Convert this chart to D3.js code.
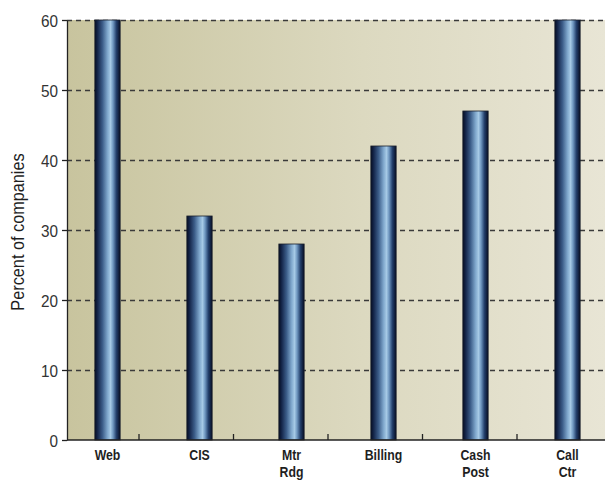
<!DOCTYPE html>
<html>
<head>
<meta charset="utf-8">
<script src="https://cdn.jsdelivr.net/npm/d3@7"></script>
<style>
  html, body { margin: 0; padding: 0; background: #ffffff; }
  svg { display: block; }
</style>
</head>
<body>
<svg id="chart" width="605" height="483"></svg>
<script>
// Share of companies by customer-service function
const categories = ["Web", "CIS", "Mtr\nRdg", "Billing", "Cash\nPost", "Call\nCtr"];
const values = [60, 32, 28, 42, 47, 60];
const yTicks = [0, 10, 20, 30, 40, 50, 60];
const yTitle = "Percent of companies";

const W = 605, H = 483;
const plot = { left: 67, right: 605, top: 20, bottom: 440 };
const FONT = "'Liberation Sans', Arial, sans-serif";

const svg = d3.select("#chart");
const defs = svg.append("defs");

// Plot-area background: warm olive on the left fading to pale cream on the right
const bg = defs.append("linearGradient").attr("id", "bgGrad")
  .attr("x1", "0%").attr("x2", "100%").attr("y1", "0%").attr("y2", "0%");
bg.append("stop").attr("offset", "0%").attr("stop-color", "#c8c49e");
bg.append("stop").attr("offset", "55%").attr("stop-color", "#dcd9c0");
bg.append("stop").attr("offset", "100%").attr("stop-color", "#e8e5d5");

// Cylindrical bar shading
const bar = defs.append("linearGradient").attr("id", "barGrad")
  .attr("x1", "0%").attr("x2", "100%").attr("y1", "0%").attr("y2", "0%");
[
  [0, "#050d24"], [0.12, "#16284d"], [0.3, "#3b5c88"], [0.5, "#7fa7cc"],
  [0.62, "#a6cae6"], [0.72, "#6f97c0"], [0.85, "#24406c"], [1, "#050d24"]
].forEach(([o, c]) => bar.append("stop").attr("offset", o).attr("stop-color", c));

const y = d3.scaleLinear().domain([0, 60]).range([plot.bottom, plot.top]);
const x = d3.scaleBand().domain(categories).range([61.5, 613.5]).paddingInner(0.725).paddingOuter(0.3625);
// Tick marks separating the categories along the bottom axis
const sep = d3.scaleLinear().domain([0, 6]).range([44.5, 611.5]);

svg.append("rect")
  .attr("x", plot.left).attr("y", plot.top)
  .attr("width", plot.right - plot.left).attr("height", plot.bottom - plot.top)
  .attr("fill", "url(#bgGrad)");

// Dashed gridlines
svg.append("g").selectAll("line")
  .data(yTicks.filter(d => d > 0))
  .join("line")
  .attr("x1", plot.left).attr("x2", plot.right)
  .attr("y1", d => y(d) + 0.5).attr("y2", d => y(d) + 0.5)
  .attr("stroke", "#3a3a3a").attr("stroke-width", 1.3)
  .attr("stroke-dasharray", "5,4");

// Bars
const bw = x.bandwidth();
svg.append("g").selectAll("rect")
  .data(categories)
  .join("rect")
  .attr("x", d => x(d))
  .attr("y", (d, i) => y(values[i]))
  .attr("width", bw)
  .attr("height", (d, i) => y(0) - y(values[i]))
  .attr("fill", "url(#barGrad)")
  .attr("stroke", "#1a1f2a").attr("stroke-width", 0.8);

// Y axis
const yAxis = svg.append("g")
  .attr("transform", `translate(${plot.left},0)`)
  .call(d3.axisLeft(y).tickValues(yTicks).tickSize(5).tickPadding(3).tickSizeOuter(0));
yAxis.select(".domain").attr("stroke", "#222").attr("stroke-width", 1.3);
yAxis.selectAll(".tick line").attr("stroke", "#222").attr("stroke-width", 1.3);
yAxis.selectAll(".tick text").remove();
// Slightly condensed tick numbers, right-aligned against the tick marks
yAxis.selectAll(".tick").append("text")
  .attr("transform", "translate(-9,0) scale(0.9,1)")
  .attr("text-anchor", "end")
  .attr("dy", "0.36em")
  .attr("font-family", FONT)
  .attr("font-size", 17).attr("fill", "#333")
  .text(d => d);

// X axis line and separators
svg.append("line")
  .attr("x1", plot.left).attr("x2", plot.right)
  .attr("y1", plot.bottom).attr("y2", plot.bottom)
  .attr("stroke", "#222").attr("stroke-width", 1.3);
svg.append("g").selectAll("line")
  .data(d3.range(1, 6))
  .join("line")
  .attr("x1", d => sep(d)).attr("x2", d => sep(d))
  .attr("y1", plot.bottom - 6).attr("y2", plot.bottom)
  .attr("stroke", "#222").attr("stroke-width", 1.3);

// Category labels (condensed bold, up to two lines)
const lab = svg.append("g").selectAll("text")
  .data(categories)
  .join("text")
  .attr("transform", d => `translate(${x(d) + bw / 2},460) scale(0.82,1)`)
  .attr("text-anchor", "middle")
  .attr("font-family", FONT)
  .attr("font-weight", "bold")
  .attr("font-size", 15)
  .attr("fill", "#1e1e1e");
lab.selectAll("tspan")
  .data(d => d.split("\n"))
  .join("tspan")
  .attr("x", 0)
  .attr("dy", (d, i) => i === 0 ? 0 : 17.5)
  .text(d => d);

// Y axis title
svg.append("text")
  .attr("transform", `translate(24,${(plot.top + plot.bottom) / 2 + 2}) rotate(-90) scale(0.88,1)`)
  .attr("text-anchor", "middle")
  .attr("font-family", FONT)
  .attr("font-size", 18.5)
  .attr("fill", "#1e1e1e")
  .text(yTitle);
</script>
</body>
</html>
